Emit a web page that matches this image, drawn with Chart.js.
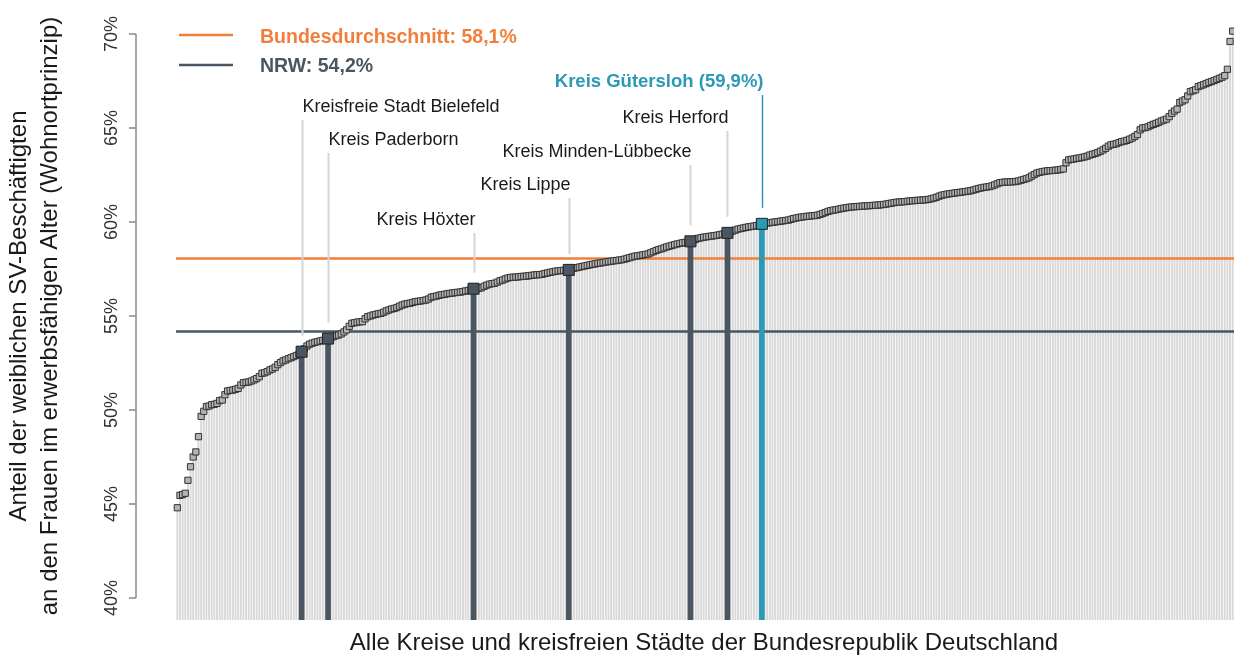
<!DOCTYPE html>
<html>
<head>
<meta charset="utf-8">
<script src="https://cdn.jsdelivr.net/npm/chart.js@4/dist/chart.umd.min.js"></script>
<style>
  html, body { margin: 0; padding: 0; background: #fff; }
  canvas { display: block; }
</style>
</head>
<body>
<canvas id="chart" width="1234" height="655"></canvas>
<script>
// Anteil der weiblichen SV-Beschäftigten (%), sortiert, 400 Kreise
const anteil = [
  44.8, 45.46, 45.5, 45.57, 46.26, 46.98, 47.5, 47.77, 48.58, 49.66,
  49.93, 50.18, 50.21, 50.28, 50.3, 50.35, 50.5, 50.53, 50.81, 51.01,
  51.04, 51.06, 51.1, 51.15, 51.33, 51.45, 51.47, 51.49, 51.54, 51.6,
  51.67, 51.77, 51.95, 51.98, 52.04, 52.13, 52.18, 52.27, 52.41, 52.52,
  52.61, 52.66, 52.73, 52.78, 52.84, 52.9, 52.97, 53.1, 53.25, 53.4,
  53.5, 53.55, 53.6, 53.63, 53.67, 53.7, 53.75, 53.8, 53.85, 53.9,
  53.95, 53.99, 54.05, 54.15, 54.26, 54.45, 54.61, 54.64, 54.67, 54.69,
  54.7, 54.85, 54.96, 55.0, 55.05, 55.08, 55.12, 55.14, 55.2, 55.27,
  55.32, 55.37, 55.4, 55.45, 55.52, 55.58, 55.63, 55.66, 55.68, 55.72,
  55.76, 55.78, 55.8, 55.82, 55.85, 55.9, 56.0, 56.03, 56.06, 56.1,
  56.13, 56.15, 56.18, 56.2, 56.22, 56.24, 56.26, 56.27, 56.3, 56.33,
  56.36, 56.4, 56.45, 56.46, 56.47, 56.5, 56.58, 56.64, 56.69, 56.72,
  56.74, 56.8, 56.87, 56.91, 56.97, 57.02, 57.05, 57.06, 57.07, 57.08,
  57.1, 57.11, 57.12, 57.14, 57.16, 57.18, 57.19, 57.2, 57.22, 57.26,
  57.29, 57.32, 57.35, 57.38, 57.4, 57.41, 57.43, 57.44, 57.45, 57.5,
  57.54, 57.57, 57.6, 57.63, 57.66, 57.69, 57.72, 57.75, 57.77, 57.8,
  57.82, 57.84, 57.87, 57.89, 57.91, 57.93, 57.95, 57.97, 57.99, 58.02,
  58.06, 58.1, 58.14, 58.18, 58.2, 58.22, 58.25, 58.27, 58.3, 58.36,
  58.42, 58.48, 58.53, 58.57, 58.62, 58.67, 58.71, 58.75, 58.79, 58.83,
  58.86, 58.89, 58.91, 58.93, 58.97, 59.03, 59.08, 59.13, 59.16, 59.19,
  59.21, 59.23, 59.25, 59.27, 59.29, 59.32, 59.35, 59.38, 59.42, 59.47,
  59.52, 59.57, 59.62, 59.65, 59.68, 59.71, 59.74, 59.76, 59.78, 59.81,
  59.84, 59.9, 59.92, 59.94, 59.96, 59.98, 60.0, 60.02, 60.04, 60.06,
  60.08, 60.1, 60.14, 60.18, 60.21, 60.24, 60.26, 60.28, 60.3, 60.31,
  60.33, 60.34, 60.36, 60.4, 60.45, 60.5, 60.56, 60.6, 60.63, 60.65,
  60.68, 60.71, 60.74, 60.76, 60.78, 60.8, 60.81, 60.82, 60.83, 60.84,
  60.85, 60.86, 60.87, 60.88, 60.89, 60.9, 60.91, 60.93, 60.95, 60.98,
  61.0, 61.03, 61.05, 61.06, 61.07, 61.08, 61.1, 61.12, 61.13, 61.14,
  61.15, 61.16, 61.17, 61.18, 61.2, 61.23, 61.27, 61.31, 61.37, 61.42,
  61.45, 61.48, 61.5, 61.52, 61.54, 61.56, 61.58, 61.6, 61.62, 61.64,
  61.66, 61.7, 61.74, 61.78, 61.81, 61.84, 61.86, 61.88, 61.92, 61.97,
  62.03, 62.09, 62.11, 62.12, 62.13, 62.13, 62.14, 62.15, 62.18, 62.22,
  62.26, 62.3, 62.35, 62.44, 62.52, 62.6, 62.64, 62.67, 62.7, 62.72,
  62.73, 62.74, 62.75, 62.77, 62.79, 62.82, 63.15, 63.3, 63.33, 63.35,
  63.38, 63.4, 63.43, 63.46, 63.5, 63.56, 63.6, 63.64, 63.69, 63.76,
  63.83, 63.92, 64.03, 64.1, 64.13, 64.16, 64.22, 64.27, 64.3, 64.34,
  64.4, 64.46, 64.55, 64.65, 64.9, 65.0, 65.02, 65.06, 65.13, 65.19,
  65.24, 65.3, 65.37, 65.42, 65.47, 65.6, 65.78, 65.9, 66.0, 66.35,
  66.43, 66.5, 66.7, 66.93, 66.98, 67.03, 67.2, 67.25, 67.3, 67.36,
  67.42, 67.47, 67.52, 67.58, 67.64, 67.7, 67.78, 68.12, 69.6, 70.15
];
const kreise = anteil.map((_, i) => String(i + 1));

// hervorgehobene Kreise in OWL
const markiertNamen = ['Kreisfreie Stadt Bielefeld', 'Kreis Paderborn', 'Kreis Höxter', 'Kreis Lippe',
  'Kreis Minden-Lübbecke', 'Kreis Herford', 'Kreis Gütersloh (59,9%)'];
const markiertIndex = [47, 57, 112, 148, 194, 208, 221];

const bundesschnitt = 58.1;
const nrwSchnitt = 54.2;
const yTicks = [40, 45, 50, 55, 60, 65, 70];

const FONT = '"Liberation Sans", Arial, sans-serif';
const ORANGE = '#f07f3c';
const DUNKEL = '#4a5661';
const TEAL = '#2c99b5';

// label layout: baseline y, alignment
const labelPos = [
  { y: 112, align: 'left' },
  { y: 145, align: 'left' },
  { y: 225, align: 'right' },
  { y: 190, align: 'right' },
  { y: 157, align: 'right' },
  { y: 123, align: 'right' },
  { y: 87, align: 'right' }
];

const markiertWerte = anteil.map((v, i) => markiertIndex.includes(i) ? v : null);
const markiertFarben = anteil.map((v, i) => i === 221 ? TEAL : DUNKEL);

const deko = {
  id: 'deko',
  afterDatasetDraw(chart, args) {
    if (args.index !== 0) return;
    const { ctx, chartArea, scales: { y } } = chart;
    ctx.save();
    ctx.lineWidth = 2.5;
    [[bundesschnitt, ORANGE], [nrwSchnitt, DUNKEL]].forEach(([v, c]) => {
      const py = Math.round(y.getPixelForValue(v)) + 0.5;
      ctx.strokeStyle = c;
      ctx.beginPath();
      ctx.moveTo(chartArea.left, py);
      ctx.lineTo(chartArea.right, py);
      ctx.stroke();
    });
    ctx.restore();
  },
  afterDraw(chart) {
    const { ctx, scales: { x, y } } = chart;
    ctx.save();

    // y axis
    const ax = 136;
    ctx.strokeStyle = '#8a8a8a';
    ctx.lineWidth = 1.5;
    ctx.beginPath();
    ctx.moveTo(ax, y.getPixelForValue(70));
    ctx.lineTo(ax, y.getPixelForValue(40));
    yTicks.forEach(t => {
      const py = y.getPixelForValue(t);
      ctx.moveTo(ax, py);
      ctx.lineTo(ax - 7, py);
    });
    ctx.stroke();

    ctx.fillStyle = '#333';
    ctx.font = '18px ' + FONT;
    ctx.textAlign = 'center';
    ctx.textBaseline = 'alphabetic';
    yTicks.forEach(t => {
      ctx.save();
      ctx.translate(117, y.getPixelForValue(t));
      ctx.rotate(-Math.PI / 2);
      ctx.fillText(t + '%', 0, 0);
      ctx.restore();
    });

    // axis titles
    ctx.fillStyle = '#1a1a1a';
    ctx.font = '24px ' + FONT;
    const midY = (y.getPixelForValue(70) + y.getPixelForValue(40)) / 2;
    [['Anteil der weiblichen SV-Beschäftigten', 26], ['an den Frauen im erwerbsfähigen Alter (Wohnortprinzip)', 57]]
      .forEach(([t, bx]) => {
        ctx.save();
        ctx.translate(bx, midY);
        ctx.rotate(-Math.PI / 2);
        ctx.fillText(t, 0, 0);
        ctx.restore();
      });
    ctx.fillText('Alle Kreise und kreisfreien Städte der Bundesrepublik Deutschland', 704, 650);

    // legend
    ctx.lineWidth = 2.7;
    [[ORANGE, 35, 'Bundesdurchschnitt: 58,1%', 43], [DUNKEL, 65, 'NRW: 54,2%', 72]].forEach(([c, ly, t, by]) => {
      ctx.strokeStyle = c;
      ctx.beginPath();
      ctx.moveTo(179, ly);
      ctx.lineTo(233, ly);
      ctx.stroke();
      ctx.fillStyle = c;
      ctx.font = 'bold 19.5px ' + FONT;
      ctx.textAlign = 'left';
      ctx.fillText(t, 260, by);
    });

    // annotations
    markiertIndex.forEach((idx, k) => {
      const px = Math.round(x.getPixelForValue(idx)) + 0.5;
      const vy = y.getPixelForValue(anteil[idx]);
      const lp = labelPos[k];
      const teal = idx === 221;
      ctx.strokeStyle = teal ? TEAL : '#d4d4d4';
      ctx.lineWidth = teal ? 1.5 : 2;
      ctx.beginPath();
      ctx.moveTo(px, lp.y + 8);
      ctx.lineTo(px, vy - 16);
      ctx.stroke();
      ctx.fillStyle = teal ? TEAL : '#1a1a1a';
      ctx.font = (teal ? 'bold 18.5px ' : '18px ') + FONT;
      ctx.textAlign = lp.align;
      ctx.fillText(markiertNamen[k], lp.align === 'left' ? px : px + 1, lp.y);
    });
    ctx.restore();
  }
};

new Chart(document.getElementById('chart'), {
  type: 'bar',
  data: {
    labels: kreise,
    datasets: [
      {
        data: anteil,
        backgroundColor: '#d9d9d9',
        barThickness: 1.3,
        order: 4
      },
      {
        data: markiertWerte,
        backgroundColor: markiertFarben,
        barThickness: 5,
        grouped: false,
        order: 3
      },
      {
        type: 'line',
        data: anteil,
        showLine: false,
        pointStyle: 'rect',
        pointRadius: 4.4,
        pointHoverRadius: 4.4,
        pointBackgroundColor: '#b4b4b4',
        pointBorderColor: '#333',
        pointBorderWidth: 1,
        clip: false,
        order: 2
      },
      {
        type: 'line',
        data: markiertWerte,
        showLine: false,
        pointStyle: 'rect',
        pointRadius: 7.8,
        pointHoverRadius: 7.8,
        pointBackgroundColor: markiertFarben,
        pointBorderColor: '#222',
        pointBorderWidth: 1,
        clip: false,
        order: 1
      }
    ]
  },
  options: {
    responsive: false,
    animation: false,
    devicePixelRatio: 1,
    events: [],
    layout: { autoPadding: false, padding: { left: 176, right: 0, top: 11, bottom: 35 } },
    plugins: { legend: { display: false }, tooltip: { enabled: false } },
    scales: {
      x: { display: false, grouped: false },
      y: { display: false, min: 38.83, max: 71.22 }
    }
  },
  plugins: [deko]
});
</script>
</body>
</html>
